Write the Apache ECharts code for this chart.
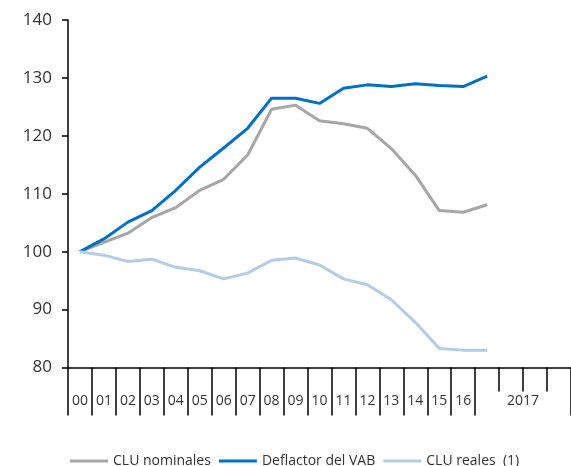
<!DOCTYPE html>
<html>
<head>
<meta charset="utf-8">
<script src="https://cdn.jsdelivr.net/npm/echarts@6/dist/echarts.min.js"></script>
<style>
html,body{margin:0;padding:0;background:#fff;}
#chart{width:571px;height:466px;}
</style>
</head>
<body>
<div id="chart"></div>
<script>
// Categories: annual 2000-2016, then 2017 quarters
const yearCats = ['00','01','02','03','04','05','06','07','08','09','10','11','12','13','14','15','16'];
const quarterCats2017 = ['2017-I','2017-II','2017-III','2017-IV'];
const label2017 = '2017';
const categories = yearCats.concat(quarterCats2017);

const seriesNames = ['CLU nominales', 'Deflactor del VAB', 'CLU reales  (1)'];
const cluNominales = [100, 101.6, 103.2, 105.9, 107.6, 110.6, 112.5, 116.7, 124.6, 125.3, 122.6, 122.1, 121.3, 117.8, 113.2, 107.1, 106.8, 108.1];
const deflactorVAB = [100, 102.2, 105.1, 107.1, 110.6, 114.6, 117.9, 121.3, 126.5, 126.5, 125.6, 128.2, 128.8, 128.5, 129.0, 128.7, 128.5, 130.3];
const cluReales = [100, 99.4, 98.3, 98.7, 97.3, 96.7, 95.3, 96.3, 98.5, 98.9, 97.7, 95.3, 94.3, 91.7, 87.8, 83.3, 83.0, 83.0];

const yMin = 80, yMax = 140, yStep = 10;

const FONT = '"Open Sans", "DejaVu Sans", sans-serif';
const TXT = '#333333';

const chart = echarts.init(document.getElementById('chart'), null, {renderer: 'canvas'});
chart.setOption({
  animation: false,
  backgroundColor: '#ffffff',
  grid: {left: 68, right: 0, top: 20, bottom: 98.5, containLabel: false},
  legend: {
    left: 65, top: 449,
    icon: 'rect',
    itemWidth: 38, itemHeight: 3, itemGap: 8,
    textStyle: {fontFamily: FONT, fontSize: 14, color: TXT, lineHeight: 14},
    data: seriesNames
  },
  xAxis: [{
    type: 'category',
    data: categories,
    boundaryGap: true,
    position: 'bottom',
    axisLine: {show: true, lineStyle: {color: '#000', width: 1.5}},
    axisTick: {show: true, length: 48, lineStyle: {color: '#000', width: 1.5},
      interval: function (i) { return i <= yearCats.length; }},
    axisLabel: {
      interval: 0, margin: 27, fontFamily: FONT, fontSize: 14, color: TXT,
      formatter: function (v, i) {
        if (i < yearCats.length) return v;
        if (i === yearCats.length + 2) return '{y|' + label2017 + '}';
        return '';
      },
      rich: {y: {fontFamily: FONT, fontSize: 14, color: TXT, padding: [0, 24, 0, 0]}}
    },
    splitLine: {show: false}
  }, {
    type: 'category',
    data: categories,
    boundaryGap: true,
    position: 'bottom',
    axisLine: {show: false},
    axisTick: {show: true, length: 24, interval: 0, lineStyle: {color: '#000', width: 1.5}},
    axisLabel: {show: false},
    splitLine: {show: false}
  }],
  yAxis: {
    type: 'value',
    min: yMin, max: yMax, interval: yStep,
    axisLine: {show: true, lineStyle: {color: '#000', width: 1.5}},
    axisTick: {show: true, length: 6, lineStyle: {color: '#000', width: 1.5}},
    axisLabel: {margin: 16, fontFamily: FONT, fontSize: 17, color: TXT},
    splitLine: {show: false}
  },
  series: [
    {name: seriesNames[0], type: 'line', data: cluNominales, symbol: 'none',
     lineStyle: {color: '#A6A6A6', width: 3}, itemStyle: {color: '#A6A6A6'}},
    {name: seriesNames[1], type: 'line', data: deflactorVAB, symbol: 'none',
     lineStyle: {color: '#0070C0', width: 3}, itemStyle: {color: '#0070C0'}},
    {name: seriesNames[2], type: 'line', data: cluReales, symbol: 'none',
     lineStyle: {color: '#B4CCE6', width: 3}, itemStyle: {color: '#B4CCE6'}}
  ]
});
</script>
</body>
</html>
